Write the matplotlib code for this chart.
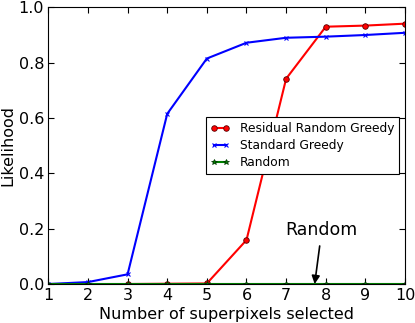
import matplotlib
matplotlib.use("Agg")
import matplotlib.pyplot as plt

x_all = [1, 2, 3, 4, 5, 6, 7, 8, 9, 10]
standard_greedy = [0.0, 0.007, 0.035, 0.615, 0.815, 0.872, 0.890, 0.894, 0.900, 0.908]
x_rrg = [3, 4, 5, 6, 7, 8, 9, 10]
residual_random_greedy = [0.0, 0.001, 0.002, 0.159, 0.742, 0.930, 0.934, 0.941]
random_vals = [0.0, 0.0, 0.0, 0.0, 0.0, 0.0, 0.0, 0.0, 0.0, 0.0]
xticks = [1, 2, 3, 4, 5, 6, 7, 8, 9, 10]
yticks = [0.0, 0.2, 0.4, 0.6, 0.8, 1.0]

fig = plt.figure(figsize=(4.15, 3.23), dpi=100)
ax = fig.add_axes([0.1164, 0.1207, 0.8596, 0.8566])

ax.plot(x_rrg, residual_random_greedy, color='#ff0000', marker='o', markersize=4,
        markeredgecolor='#550000', markeredgewidth=0.6,
        linewidth=1.5, label='Residual Random Greedy')
ax.plot(x_all, standard_greedy, color='#0000ff', marker='x', markersize=3.5,
        markeredgewidth=0.8, linewidth=1.5, label='Standard Greedy')
ax.plot(x_all, random_vals, color='#008000', marker='*', markersize=4,
        markeredgecolor='#003300', markeredgewidth=0.5,
        linewidth=1.5, label='Random')

ax.set_xlim(1, 10)
ax.set_ylim(0, 1.0)
ax.set_xticks(xticks)
ax.set_yticks(yticks)
ax.set_yticklabels([f"{v:.1f}" for v in yticks])
ax.tick_params(direction='in', top=True, right=True, labelsize=11.5, length=4, pad=3)
ax.set_xlabel('Number of superpixels selected', fontsize=11.5, labelpad=3)
ax.set_ylabel('Likelihood', fontsize=11.5, labelpad=2)

leg = ax.legend(loc='center right', numpoints=2, fontsize=8.8, fancybox=False,
                framealpha=1, edgecolor='black', borderaxespad=0.5,
                handlelength=1.55, labelspacing=0.35)
leg.get_frame().set_linewidth(0.8)

ax.annotate('Random', xy=(7.72, 0.0), xytext=(7.9, 0.195), fontsize=12.5,
            ha='center', va='center',
            arrowprops=dict(arrowstyle='-|>', color='black', lw=1.2, mutation_scale=12,
                            shrinkA=3, shrinkB=0))

fig.savefig('out.png', dpi=100)
